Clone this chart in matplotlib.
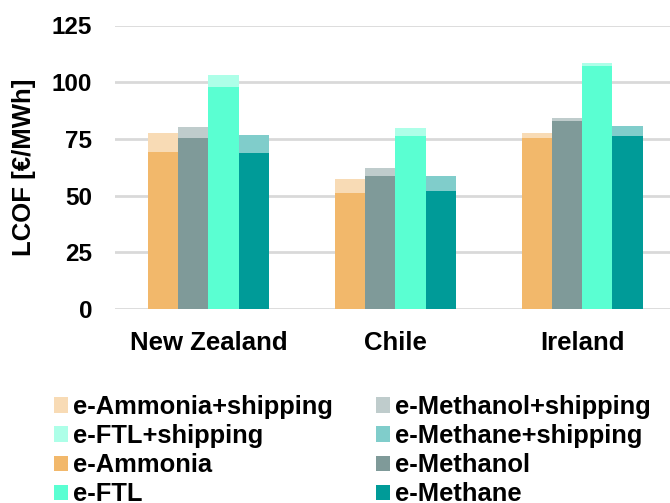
import matplotlib
matplotlib.use("Agg")
import matplotlib.pyplot as plt
import numpy as np
from matplotlib.patches import Patch

plt.rcParams['font.family'] = ['Liberation Sans', 'DejaVu Sans']
plt.rcParams['font.weight'] = 'bold'

countries = ["New Zealand", "Chile", "Ireland"]
fuels = ["e-Ammonia", "e-Methanol", "e-FTL", "e-Methane"]
# production cost (base) and cost incl. shipping, €/MWh
base = {
    "e-Ammonia":  [69.1, 51.1, 75.3],
    "e-Methanol": [75.5, 58.5, 82.8],
    "e-FTL":      [98.0, 76.4, 107.3],
    "e-Methane":  [68.6, 51.9, 76.3],
}
with_shipping = {
    "e-Ammonia":  [77.6, 57.3, 77.6],
    "e-Methanol": [80.4, 62.2, 84.2],
    "e-FTL":      [103.3, 80.0, 108.3],
    "e-Methane":  [76.6, 58.5, 80.6],
}
yticks = [0, 25, 50, 75, 100, 125]

colors = {"e-Ammonia": "#F2B86B", "e-Methanol": "#7F9A99",
          "e-FTL": "#5AFFD2", "e-Methane": "#009B98"}
light = {"e-Ammonia": "#F8DBB5", "e-Methanol": "#BFCCCC",
         "e-FTL": "#ADFFE8", "e-Methane": "#80CDCB"}

fig = plt.figure(figsize=(6.7, 5.03), dpi=100)
ax = fig.add_axes([115/670, 1-309/503, 1-115/670, (309-25.5)/503])

x = np.arange(len(countries))
w = 0.1616
for i, f in enumerate(fuels):
    pos = x + (i - 1.5) * w
    ax.bar(pos, with_shipping[f], width=w, color=light[f], zorder=2)
    ax.bar(pos, base[f], width=w, color=colors[f], zorder=3)

ax.set_xlim(-0.5, 2.47)
ax.set_ylim(0, 125)
ax.set_yticks(yticks)
ax.set_yticklabels([str(t) for t in yticks], fontsize=17.5, fontweight='bold')
ax.set_xticks(x)
ax.set_xticklabels(countries, fontsize=18.5, fontweight='bold')
ax.tick_params(axis='both', length=0)
ax.tick_params(axis='y', pad=16.5)
ax.tick_params(axis='x', pad=15.5)
for s in ax.spines.values():
    s.set_visible(False)
ax.yaxis.grid(True, color='#D9D9D9', linewidth=2, zorder=0)
ax.set_axisbelow(True)
ax.set_ylabel("LCOF [€/MWh]", fontsize=18.5, fontweight='bold', labelpad=11)

order = [("e-Ammonia+shipping", light["e-Ammonia"]),
         ("e-FTL+shipping", light["e-FTL"]),
         ("e-Ammonia", colors["e-Ammonia"]),
         ("e-FTL", colors["e-FTL"]),
         ("e-Methanol+shipping", light["e-Methanol"]),
         ("e-Methane+shipping", light["e-Methane"]),
         ("e-Methanol", colors["e-Methanol"]),
         ("e-Methane", colors["e-Methane"])]
handles = [Patch(facecolor=c, edgecolor='none', label=l) for l, c in order]
fig.legend(handles=handles, ncol=2, loc='upper left',
           bbox_to_anchor=(54/670, 1-395/503), frameon=False,
           prop={'size': 18.4, 'weight': 'bold'},
           handlelength=0.54, handleheight=0.54, handletextpad=0.2,
           columnspacing=1.7, labelspacing=0.2, borderaxespad=0, borderpad=0)

fig.savefig("out.png", dpi=100)
